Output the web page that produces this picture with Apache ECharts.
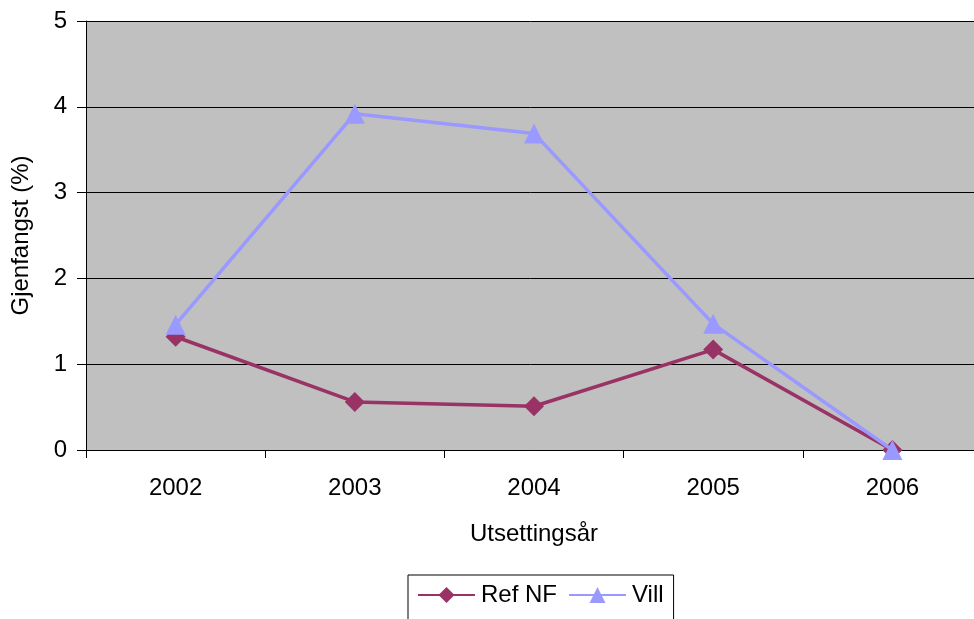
<!DOCTYPE html>
<html>
<head>
<meta charset="utf-8">
<script src="https://cdn.jsdelivr.net/npm/echarts@6/dist/echarts.min.js"></script>
<style>
  html, body { margin: 0; padding: 0; background: #fff; }
  #chart { width: 974px; height: 619px; }
</style>
</head>
<body>
<div id="chart"></div>
<script>
// Utsettingsår (release year)
const years = ['2002', '2003', '2004', '2005', '2006'];
// Gjenfangst (%) per group
const refNF = [1.32, 0.56, 0.51, 1.17, 0];
const vill = [1.46, 3.92, 3.69, 1.47, 0];
const yTicks = [0, 1, 2, 3, 4, 5];

const chart = echarts.init(document.getElementById('chart'));
const font = 'Liberation Sans, Arial, sans-serif';

chart.setOption({
  animation: false,
  backgroundColor: '#ffffff',
  grid: {
    left: 86, right: -8, top: 21, bottom: 169,
    outerBoundsMode: 'none',
    containLabel: false,
    show: true, backgroundColor: '#C0C0C0', borderWidth: 0
  },
  xAxis: {
    type: 'category',
    data: years,
    boundaryGap: true,
    name: 'Utsettingsår',
    nameLocation: 'middle',
    nameGap: 72,
    nameTextStyle: { color: '#000', fontSize: 24, fontFamily: font },
    axisLine: { lineStyle: { color: '#000', width: 1 } },
    axisTick: { show: true, length: 8, lineStyle: { color: '#000' } },
    axisLabel: { color: '#000', fontSize: 24, fontFamily: font, margin: 26 },
    splitLine: { show: false }
  },
  yAxis: {
    type: 'value',
    min: yTicks[0],
    max: yTicks[yTicks.length - 1],
    interval: 1,
    name: 'Gjenfangst (%)',
    nameLocation: 'middle',
    nameGap: 53,
    nameTextStyle: { color: '#000', fontSize: 24, fontFamily: font },
    axisLine: { show: true, lineStyle: { color: '#000', width: 1 } },
    axisTick: { show: true, length: 9, lineStyle: { color: '#000' } },
    axisLabel: { color: '#000', fontSize: 24, fontFamily: font, margin: 19 },
    splitLine: { show: true, lineStyle: { color: '#000', width: 1 } }
  },
  legend: {
    bottom: -4,
    left: 408,
    itemWidth: 57,
    itemHeight: 20,
    itemGap: 11,
    padding: [8, 10, 16, 9],
    borderColor: '#000',
    borderWidth: 1,
    textStyle: { color: '#000', fontSize: 24, fontFamily: font, padding: [0, 0, 0, 1] },
    data: ['Ref NF', 'Vill']
  },
  series: [
    {
      name: 'Ref NF',
      type: 'line',
      data: refNF,
      symbol: 'diamond',
      symbolSize: 20,
      color: '#993366',
      lineStyle: { color: '#993366', width: 3.5 },
      itemStyle: { color: '#993366' },
      z: 2
    },
    {
      name: 'Vill',
      type: 'line',
      data: vill,
      symbol: 'triangle',
      symbolSize: 20,
      color: '#9999FF',
      lineStyle: { color: '#9999FF', width: 3.5 },
      itemStyle: { color: '#9999FF' },
      z: 3
    }
  ]
});
</script>
</body>
</html>
